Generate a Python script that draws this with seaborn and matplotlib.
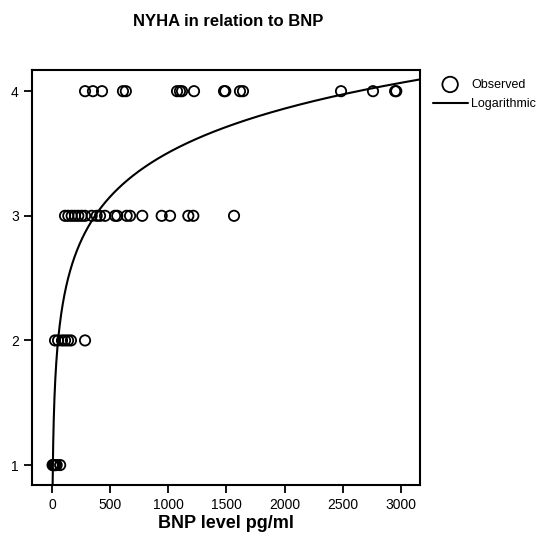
import numpy as np
import pandas as pd
import matplotlib
matplotlib.use("Agg")
import matplotlib.pyplot as plt
import seaborn as sns

# Observed data (BNP pg/ml, NYHA class)
bnp_class1 = [5, 10, 15, 20, 25, 30, 40, 70]
bnp_class2 = [26, 52, 86, 112, 138, 163, 284]
bnp_class3 = [112, 140, 169, 198, 226, 255, 284, 341, 384, 413, 456, 542, 561,
              642, 671, 776, 943, 1015, 1172, 1215, 1565]
bnp_class4 = [284, 352, 430, 610, 635, 1075, 1100, 1118, 1221, 1479, 1490, 1616,
              1642, 2485, 2760, 2950, 2960]
nyha_classes = [1, 2, 3, 4]

# Logarithmic fit coefficients: NYHA = a + b*ln(BNP)
fit_a = -0.016
fit_b = 0.51

x_ticks = [0, 500, 1000, 1500, 2000, 2500, 3000]
y_ticks = [1, 2, 3, 4]

rows = []
for cls, vals in zip(nyha_classes, [bnp_class1, bnp_class2, bnp_class3, bnp_class4]):
    for v in vals:
        rows.append((v, cls))
df = pd.DataFrame(rows, columns=["BNP", "NYHA"])

xfit = np.linspace(5.2, 3164, 2000)
fit_df = pd.DataFrame({"BNP": xfit, "NYHA": fit_a + fit_b * np.log(xfit)})

sns.set_style("white")
plt.rcParams['font.family'] = ['Liberation Sans', 'DejaVu Sans']
plt.rcParams['text.color'] = 'black'
plt.rcParams['axes.labelcolor'] = 'black'

fig = plt.figure(figsize=(5.42, 5.35), dpi=100)
ax = fig.add_axes([32/542, 50/535, (420-32)/542, (485-70)/535])

sns.scatterplot(data=df, x="BNP", y="NYHA", ax=ax, marker="o", s=55,
                facecolor="none", edgecolor="black", linewidth=1.3,
                label="Observed", zorder=3)
sns.lineplot(data=fit_df, x="BNP", y="NYHA", ax=ax, color="black",
             linewidth=1.5, label="Logarithmic", zorder=2)

ax.set_xlim(-172, 3164)
ax.set_ylim(0.84, 4.17)
ax.set_xticks(x_ticks)
ax.set_yticks(y_ticks)
ax.tick_params(axis="both", direction="out", length=6, width=1.3,
               labelsize=10, colors="black", bottom=True, left=True)
for s in ax.spines.values():
    s.set_linewidth(1.5)
    s.set_color("black")

ax.set_xlabel("BNP level pg/ml", fontsize=13, fontweight="bold", labelpad=2,
              color="black")
ax.set_ylabel("")
fig.text(228/542, 1 - 22/535, "NYHA in relation to BNP", ha="center", va="center",
         fontsize=12, fontweight="bold", color="black")

leg = ax.legend(loc="upper left", bbox_to_anchor=(1.01, 1.0), frameon=False,
                fontsize=9, handlelength=2.8, handletextpad=0.3, borderaxespad=0.3,
                labelspacing=0.6, markerscale=1.5)
for t in leg.get_texts():
    t.set_color("black")

fig.savefig("out.png", dpi=100)
